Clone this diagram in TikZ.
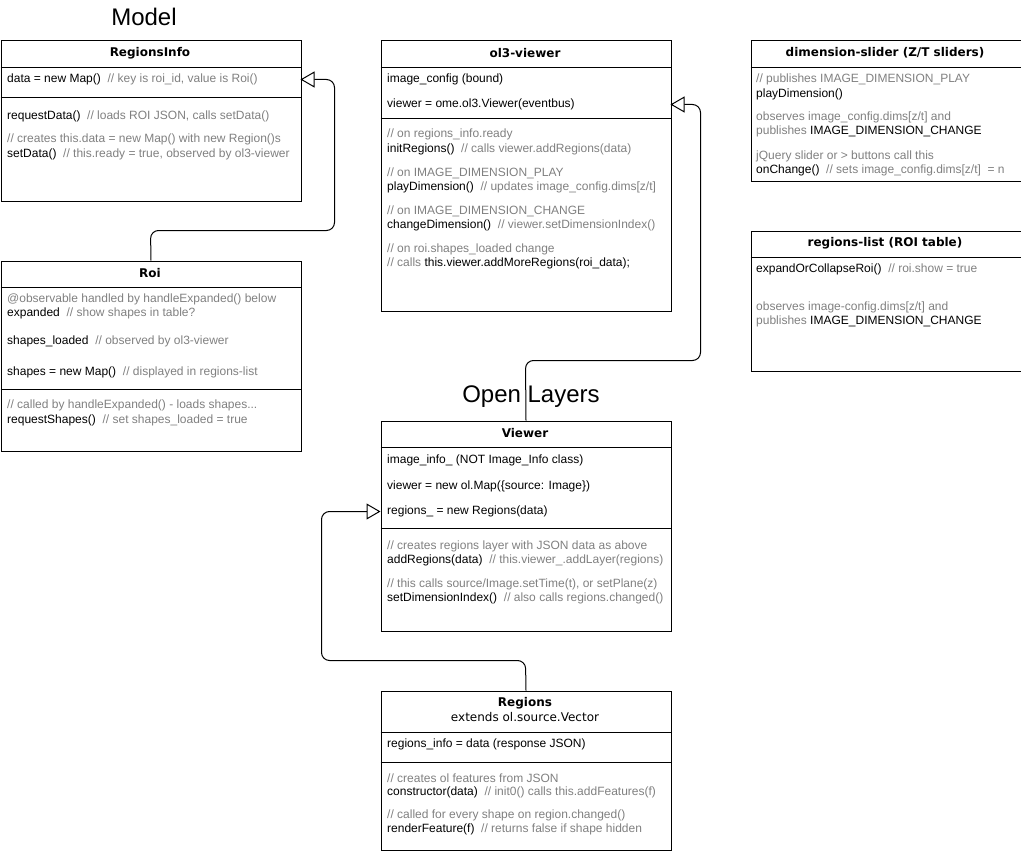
\documentclass[tikz,border=0pt]{standalone}
\usepackage{fontspec}
\setmainfont{Liberation Sans}
\newfontfamily\hdrfont{DejaVu Sans}
\usetikzlibrary{arrows.meta}
\definecolor{cmt}{HTML}{808080}
\newcommand\gy[1]{\textcolor{cmt}{#1}}
\tikzset{
  umlbox/.style={draw, line width=1pt, rectangle, inner sep=0, anchor=north west},
  hdr/.style={font=\hdrfont\bfseries\fontsize{12}{14}\selectfont, inner sep=0, anchor=center},
  sub/.style={font=\hdrfont\fontsize{12}{14}\selectfont, inner sep=0, anchor=center},
  ln/.style={font=\fontsize{12}{14}\selectfont, inner sep=0, anchor=west},
  ttl/.style={font=\fontsize{24}{28}\selectfont, inner sep=0, anchor=center},
  divider/.style={line width=1pt},
  inh/.style={line width=1pt, rounded corners=8pt, -{Triangle[open, length=14pt, width=16pt]}}
}
\begin{document}
\begin{tikzpicture}[x=1pt, y=-1pt]
\useasboundingbox (0,0) rectangle (1021,851);

% titles
\node[ttl] (tmodel) at (144,17) {Model};
\node[ttl] (tol) at (531,397) {Open Layers};

% ---------- RegionsInfo
\node[umlbox, minimum width=300pt, minimum height=160pt] (ri) at (0.5,40.5) {};
\node[hdr] (ri-h) at (150,53) {RegionsInfo};
\draw[divider] (0.5,67.5) -- (300.5,67.5);
\draw[divider] (0.5,97.5) -- (300.5,97.5);
\node[ln] (ri-1) at (7,79) {data = new Map()\ \ \gy{// key is roi\_id, value is Roi()}};
\node[ln] (ri-2) at (7,116) {requestData()\ \ \gy{// loads ROI JSON, calls setData()}};
\node[ln] (ri-3) at (7,139) {\gy{// creates this.data = new Map() with new Region()s}};
\node[ln] (ri-4) at (7,154) {setData()\ \ \gy{// this.ready = true, observed by ol3-viewer}};
\coordinate (ri-in) at (300.5,79.5);

% ---------- Roi
\node[umlbox, minimum width=300pt, minimum height=190pt] (roi) at (0.5,260.5) {};
\node[hdr] (roi-h) at (150,273) {Roi};
\draw[divider] (0.5,287.5) -- (300.5,287.5);
\draw[divider] (0.5,389.5) -- (300.5,389.5);
\node[ln] (roi-1) at (7,299) {\gy{@observable handled by handleExpanded() below}};
\node[ln] (roi-2) at (7,313) {expanded\ \ \gy{// show shapes in table?}};
\node[ln] (roi-3) at (7,341) {shapes\_loaded\ \ \gy{// observed by ol3-viewer}};
\node[ln] (roi-4) at (7,372) {shapes = new Map()\ \ \gy{// displayed in regions-list}};
\node[ln] (roi-5) at (7,405) {\gy{// called by handleExpanded() - loads shapes...}};
\node[ln] (roi-6) at (7,420) {requestShapes()\ \ \gy{// set shapes\_loaded = true}};

% ---------- ol3-viewer
\node[umlbox, minimum width=290pt, minimum height=270pt] (ol3) at (380.5,40.5) {};
\node[hdr] (ol3-h) at (525,53) {ol3-viewer};
\draw[divider] (380.5,67.5) -- (670.5,67.5);
\draw[divider] (380.5,118.5) -- (670.5,118.5);
\node[ln] (ol3-1) at (387,79) {image\_config (bound)};
\node[ln] (ol3-2) at (387,104) {viewer = ome.ol3.Viewer(eventbus)};
\node[ln] (ol3-3) at (387,134) {\gy{// on regions\_info.ready}};
\node[ln] (ol3-4) at (387,149) {initRegions()\ \ \gy{// calls viewer.addRegions(data)}};
\node[ln] (ol3-5) at (387,173) {\gy{// on IMAGE\_DIMENSION\_PLAY}};
\node[ln] (ol3-6) at (387,187) {playDimension()\ \ \gy{// updates image\_config.dims[z/t]}};
\node[ln] (ol3-7) at (387,211) {\gy{// on IMAGE\_DIMENSION\_CHANGE}};
\node[ln] (ol3-8) at (387,225) {changeDimension()\ \ \gy{// viewer.setDimensionIndex()}};
\node[ln] (ol3-9) at (387,249) {\gy{// on roi.shapes\_loaded change}};
\node[ln] (ol3-10) at (387,263) {\gy{// calls} this.viewer.addMoreRegions(roi\_data);};
\coordinate (ol3-in) at (670.5,104.5);

% ---------- dimension-slider
\node[umlbox, minimum width=270pt, minimum height=140pt] (dim) at (750.5,40.5) {};
\node[hdr] (dim-h) at (885,53) {dimension-slider (Z/T sliders)};
\draw[divider] (750.5,67.5) -- (1020.5,67.5);
\node[ln] (dim-1) at (756,79) {\gy{// publishes IMAGE\_DIMENSION\_PLAY}};
\node[ln] (dim-2) at (756,94) {playDimension()};
\node[ln] (dim-3) at (756,117) {\gy{observes image\_config.dims[z/t] and}};
\node[ln] (dim-4) at (756,131) {\gy{publishes} IMAGE\_DIMENSION\_CHANGE};
\node[ln] (dim-5) at (756,156) {\gy{jQuery slider or > buttons call this}};
\node[ln] (dim-6) at (756,170) {onChange()\ \ \gy{// sets image\_config.dims[z/t]\ \ = n}};

% ---------- regions-list
\node[umlbox, minimum width=270pt, minimum height=140pt] (rl) at (750.5,230.5) {};
\node[hdr] (rl-h) at (885,243) {regions-list (ROI table)};
\draw[divider] (750.5,257.5) -- (1020.5,257.5);
\node[ln] (rl-1) at (756,269) {expandOrCollapseRoi()\ \ \gy{// roi.show = true}};
\node[ln] (rl-2) at (756,307) {\gy{observes image-config.dims[z/t] and}};
\node[ln] (rl-3) at (756,321) {\gy{publishes} IMAGE\_DIMENSION\_CHANGE};

% ---------- Viewer
\node[umlbox, minimum width=290pt, minimum height=210pt] (vw) at (380.5,420.5) {};
\node[hdr] (vw-h) at (525,433) {Viewer};
\draw[divider] (380.5,447.5) -- (670.5,447.5);
\draw[divider] (380.5,528.5) -- (670.5,528.5);
\node[ln] (vw-1) at (387,460) {image\_info\_ (NOT Image\_Info class)};
\node[ln] (vw-2) at (387,486) {viewer = new ol.Map(\{source: Image\})};
\node[ln] (vw-3) at (387,511) {regions\_ = new Regions(data)};
\node[ln] (vw-4) at (387,546) {\gy{// creates regions layer with JSON data as above}};
\node[ln] (vw-5) at (387,560) {addRegions(data)\ \ \gy{// this.viewer\_.addLayer(regions)}};
\node[ln] (vw-6) at (387,584) {\gy{// this calls source/Image.setTime(t), or setPlane(z)}};
\node[ln] (vw-7) at (387,598) {setDimensionIndex()\ \ \gy{// also calls regions.changed()}};
\coordinate (vw-in) at (380.5,511.5);

% ---------- Regions
\node[umlbox, minimum width=290pt, minimum height=159pt] (rg) at (380.5,690.5) {};
\node[hdr] (rg-h) at (525,703) {Regions};
\node[sub] (rg-s) at (525,717) {extends ol.source.Vector};
\draw[divider] (380.5,732.5) -- (670.5,732.5);
\draw[divider] (380.5,762.5) -- (670.5,762.5);
\node[ln] (rg-1) at (387,744) {regions\_info = data (response JSON)};
\node[ln] (rg-2) at (387,778) {\gy{// creates ol features from JSON}};
\node[ln] (rg-3) at (387,792) {constructor(data)\ \ \gy{// init0() calls this.addFeatures(f)}};
\node[ln] (rg-4) at (387,815) {\gy{// called for every shape on region.changed()}};
\node[ln] (rg-5) at (387,829) {renderFeature(f)\ \ \gy{// returns false if shape hidden}};

% ---------- connectors
\draw[inh] (roi.north) -- (150.5,230.5) -- (334.5,230.5) -- (334.5,79.5) -- (ri-in);
\draw[inh] (vw.north) -- (525.5,360.5) -- (700.5,360.5) -- (700.5,104.5) -- (ol3-in);
\draw[inh] (rg.north) -- (525.5,660.5) -- (321.5,660.5) -- (321.5,511.5) -- (vw-in);
\end{tikzpicture}
\end{document}
